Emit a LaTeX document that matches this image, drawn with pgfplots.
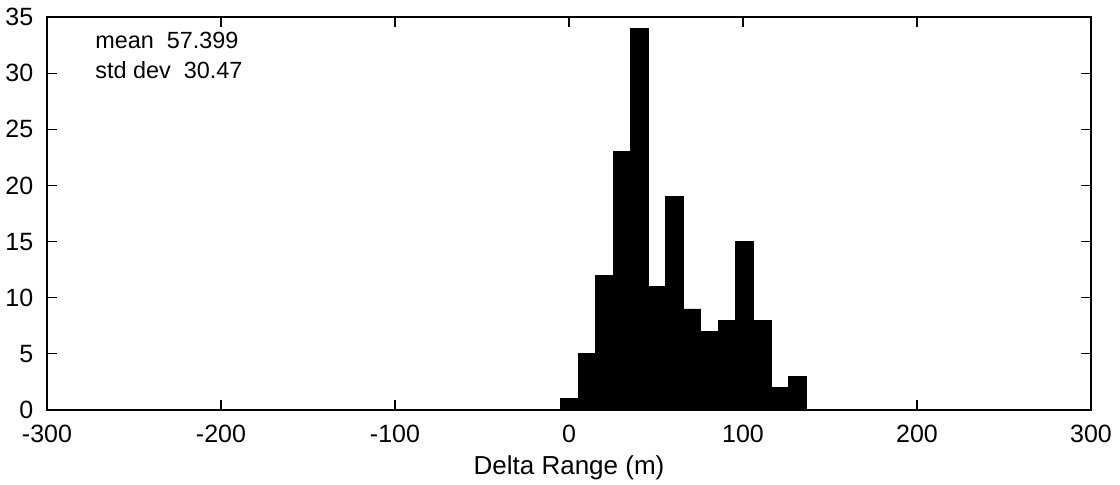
\documentclass[border=0pt]{standalone}
\usepackage{pgfplots}
\pgfplotsset{compat=1.18}
\usepackage{fontspec}
\setmainfont{Liberation Sans}
\begin{document}
\fontsize{12.5}{15}\selectfont
\begin{tikzpicture}
\begin{axis}[
  name=ax,
  scale only axis,
  width=522pt, height=196.5pt,
  xmin=-300, xmax=300, ymin=0, ymax=35,
  xtick={-300,-200,...,300},
  ytick={0,5,...,35},
  tick align=inside,
  tick pos=both,
  xticklabel pos=bottom, yticklabel pos=left,
  major tick length=5pt,
  axis line style={line width=0.8pt},
  every tick/.style={black, line width=0.6pt},
  /pgf/number format/assume math mode=true,
  ticklabel style={font=\fontsize{12.5}{15}\selectfont},
  xticklabel style={yshift=-3pt},
  yticklabel style={xshift=-2.5pt},
  xlabel={Delta Range (m)},
  xlabel style={font=\fontsize{13}{15.6}\selectfont, yshift=2pt},
  axis on top,
]
\addplot[ybar interval, fill=black, draw=black] coordinates {
(-4.90,1) (5.18,5) (15.26,12) (25.34,23) (35.42,34) (45.50,11) (55.58,19)
(65.66,9) (75.74,7) (85.82,8) (95.90,15) (105.98,8) (116.06,2) (126.14,3) (136.22,3)
};
\node[anchor=base west, inner sep=0pt, font=\fontsize{11.7}{14}\selectfont] at (axis cs:-272.4,32.15) {mean\ \ 57.399};
\node[anchor=base west, inner sep=0pt, font=\fontsize{11.7}{14}\selectfont] at (axis cs:-272.4,29.48) {std dev\ \ 30.47};
\end{axis}
\pgfresetboundingbox
\path[use as bounding box] ([xshift=-23.5pt,yshift=-37.5pt]ax.south west) rectangle ([xshift=14.5pt,yshift=8.5pt]ax.north east);
\end{tikzpicture}
\end{document}
